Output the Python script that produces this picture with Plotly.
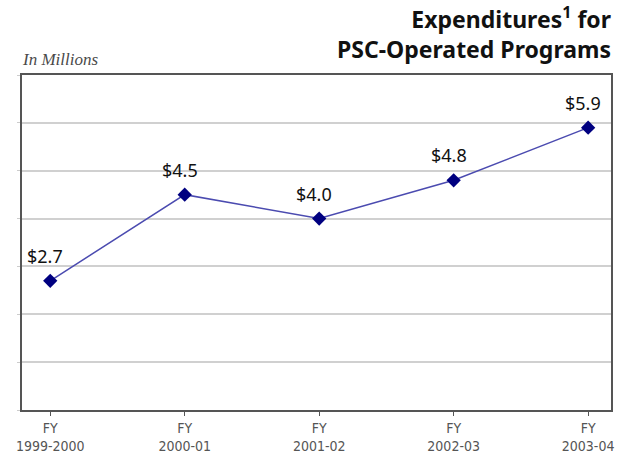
import plotly.graph_objects as go

categories = ["FY<br>1999-2000", "FY<br>2000-01", "FY<br>2001-02", "FY<br>2002-03", "FY<br>2003-04"]
values = [2.7, 4.5, 4.0, 4.8, 5.9]
value_labels = ["$2.7", "$4.5", "$4.0", "$4.8", "$5.9"]
x_idx = list(range(len(categories)))

fig = go.Figure()
fig.add_trace(go.Scatter(
    x=x_idx, y=values, mode="lines+markers",
    line=dict(color="#4b4bb0", width=1.5),
    marker=dict(symbol="diamond", size=11, color="#000080"),
    hoverinfo="skip", showlegend=False,
))

for xi, v, t in zip(x_idx, values, value_labels):
    fig.add_annotation(x=xi, y=v, text=t, showarrow=False,
                       xshift=-5, yshift=25,
                       font=dict(family="Noto Sans", size=18, color="#111"))

fig.add_annotation(xref="paper", yref="paper", x=1.003, y=1.0, yshift=76,
                   xanchor="right", yanchor="top", align="right", showarrow=False,
                   text="<b>Expenditures<sup>1</sup> for<br>PSC-Operated Programs</b>",
                   font=dict(family="Noto Sans", size=23, color="#111"))
fig.add_annotation(xref="paper", yref="paper", x=0, y=1.0, yshift=4, xshift=-2,
                   xanchor="left", yanchor="bottom", showarrow=False,
                   text="<i>In Millions</i>",
                   font=dict(family="Liberation Serif", size=17, color="#4a4a4a"))

fig.update_layout(
    width=619, height=455,
    margin=dict(l=22, r=8, t=75, b=45),
    paper_bgcolor="white", plot_bgcolor="white",
    xaxis=dict(range=[-0.21, 4.17], tickvals=x_idx, ticktext=categories,
               showgrid=False, zeroline=False, automargin=False,
               showline=True, linecolor="#555", linewidth=2, mirror=True,
               ticks="outside", ticklen=4, tickcolor="#555",
               tickfont=dict(family="DejaVu Sans Condensed, Liberation Sans Narrow", size=14, color="#555")),
    yaxis=dict(range=[0, 7], dtick=1, showticklabels=False, automargin=False,
               showgrid=True, gridcolor="#d0d0d0", gridwidth=2, zeroline=False,
               showline=True, linecolor="#555", linewidth=2, mirror=True,
               ticks="outside", ticklen=3, tickcolor="#ccc"),
)

fig.write_html("out.html", config={"displayModeBar": False},
               post_script="document.body.style.margin='0';")
